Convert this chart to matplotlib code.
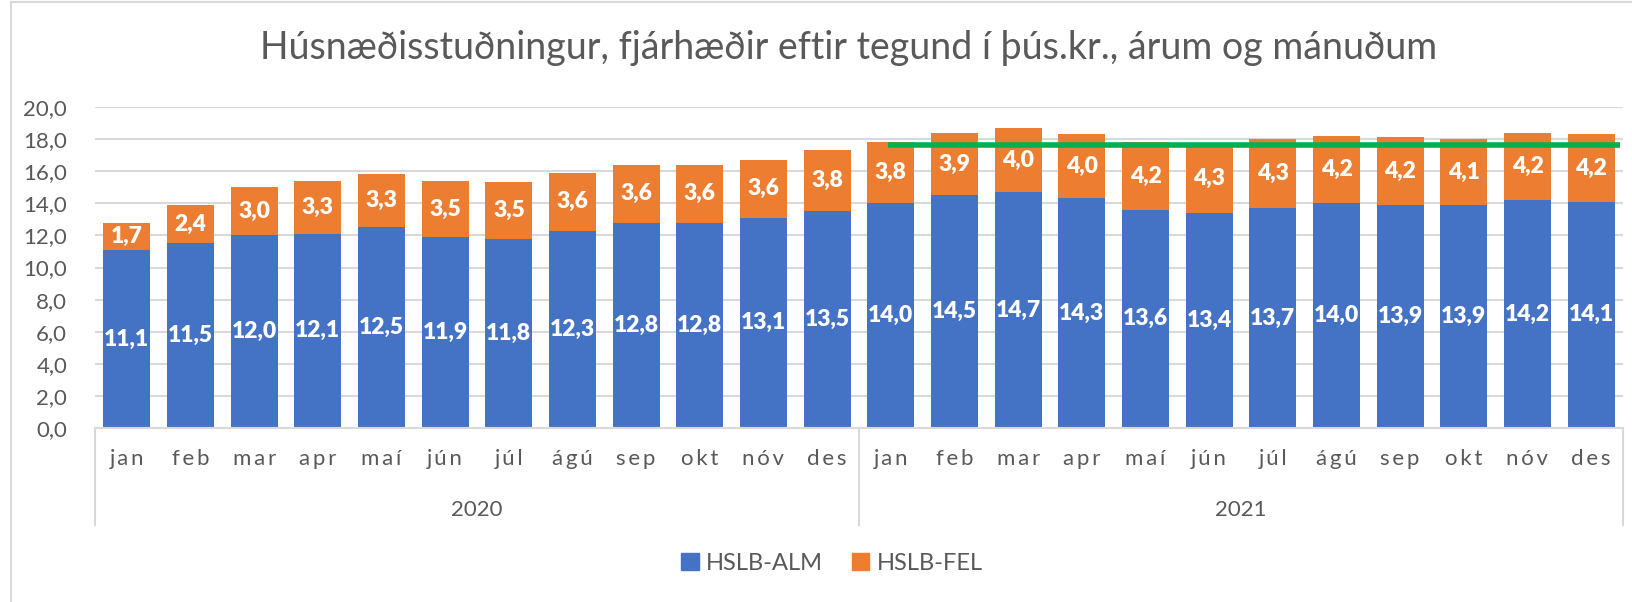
import numpy as np
import matplotlib
matplotlib.use('Agg')
import matplotlib.pyplot as plt
from matplotlib.lines import Line2D
from matplotlib.patches import Patch

plt.rcParams['font.family'] = ['Lato', 'DejaVu Sans']

title = 'Húsnæðisstuðningur, fjárhæðir eftir tegund í þús.kr., árum og mánuðum'
months = ['jan', 'feb', 'mar', 'apr', 'maí', 'jún', 'júl', 'ágú', 'sep', 'okt', 'nóv', 'des']
years = ['2020', '2021']
alm = [11.1, 11.5, 12.0, 12.1, 12.5, 11.9, 11.8, 12.3, 12.8, 12.8, 13.1, 13.5,
       14.0, 14.5, 14.7, 14.3, 13.6, 13.4, 13.7, 14.0, 13.9, 13.9, 14.2, 14.1]
fel = [1.7, 2.4, 3.0, 3.3, 3.3, 3.5, 3.5, 3.6, 3.6, 3.6, 3.6, 3.8,
       3.8, 3.9, 4.0, 4.0, 4.2, 4.3, 4.3, 4.2, 4.2, 4.1, 4.2, 4.2]
ref_level = 17.65
ref_start = 12  # first month of 2021

blue = '#4472C4'
orange = '#ED7D31'
green = '#00B050'
grey_txt = '#595959'
grid_c = '#D9D9D9'

fig = plt.figure(figsize=(16.32, 6.02), dpi=100)
ax = fig.add_axes([95/1632, 1-428/602, 1528/1632, 321/602])

x = np.arange(len(alm))
alm = np.array(alm)
fel = np.array(fel)
w = 0.74
ax.bar(x, alm, w, color=blue, zorder=2)
ax.bar(x, fel, w, bottom=alm, color=orange, zorder=2)

for i in x:
    ax.text(i, alm[i]/2, f'{alm[i]:.1f}'.replace('.', ','), ha='center', va='center',
            color='white', fontsize=16.5, fontweight='heavy', zorder=3)
    ax.text(i, alm[i] + fel[i]/2, f'{fel[i]:.1f}'.replace('.', ','), ha='center', va='center',
            color='white', fontsize=16.5, fontweight='heavy', zorder=3)

ax.plot([ref_start - 0.05, len(alm) - 0.55], [ref_level, ref_level], color=green, lw=4, zorder=4,
        solid_capstyle='butt')

ax.set_xlim(-0.5, len(alm) - 0.5)
ax.set_ylim(0, 20)
ax.set_yticks(np.arange(0, 21, 2))
ax.set_yticklabels([f'{v:.1f}'.replace('.', ',') for v in np.arange(0, 21, 2)],
                   fontsize=16, color=grey_txt)
ax.yaxis.grid(True, color=grid_c, lw=1.5, zorder=0)
ax.tick_params(axis='y', length=0, pad=20)
ax.set_xticks(x)
# Excel draws the month names letter-spaced
spaced = ['\u2009'.join(m) for m in months]
ax.set_xticklabels(spaced * 2, fontsize=16, color=grey_txt)
ax.tick_params(axis='x', length=0, pad=15)
for s in ['top', 'right', 'left']:
    ax.spines[s].set_visible(False)
ax.spines['bottom'].set_color(grid_c)
ax.spines['bottom'].set_linewidth(1.5)

# category box lines
trans = ax.get_xaxis_transform()
box_bottom = -(525 - 428) / 321
for xv in [-0.5, 11.5, 23.5]:
    ax.add_line(Line2D([xv, xv], [0, box_bottom], transform=trans, color=grid_c, lw=1.5,
                       clip_on=False))
for k, yr in enumerate(years):
    ax.text(k*12 + 5.5, -(510 - 428) / 321, yr, transform=trans, ha='center', va='center',
            fontsize=16, color=grey_txt)

fig.suptitle(title, x=849/1632, y=1 - 48/602, va='center', fontsize=27, color=grey_txt)

handles = [Patch(color=blue), Patch(color=orange)]
fig.legend(handles, ['HSLB-ALM', 'HSLB-FEL'], loc='center', bbox_to_anchor=(832/1632, 1 - 563/602),
           ncol=2, frameon=False, fontsize=17, labelcolor=grey_txt, handlelength=0.75,
           handleheight=0.75, columnspacing=1.2, handletextpad=0.3)

# chart border
fig.add_artist(Line2D([11/1632, 11/1632], [0, 1 - 2/602], color=grid_c, lw=1.5))
fig.add_artist(Line2D([11/1632, 1], [1 - 2/602, 1 - 2/602], color=grid_c, lw=1.5))

fig.savefig('out.png', dpi=100)
